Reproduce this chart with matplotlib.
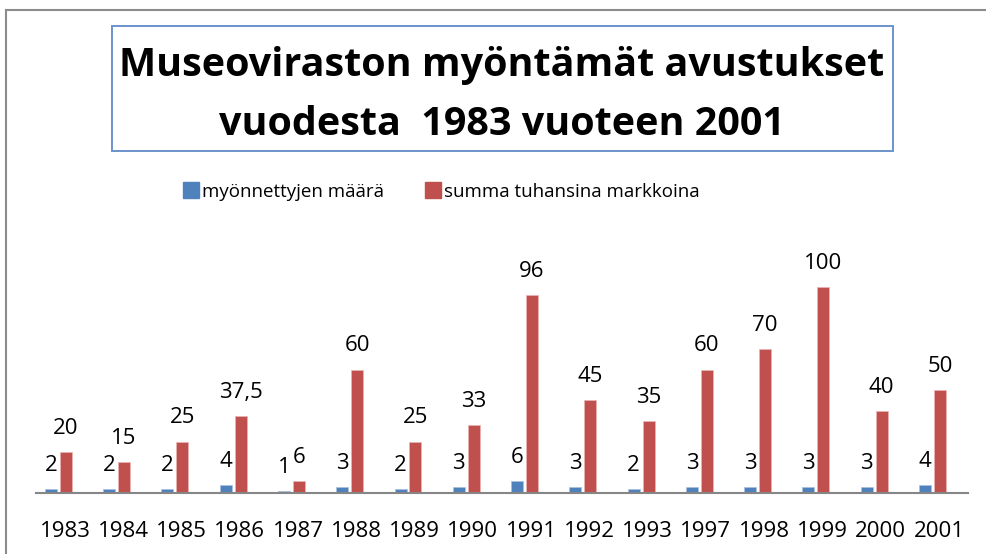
import matplotlib
matplotlib.use("Agg")
import matplotlib.pyplot as plt
from matplotlib.patches import Rectangle, Patch
from matplotlib.lines import Line2D
import numpy as np

years = ["1983", "1984", "1985", "1986", "1987", "1988", "1989", "1990",
         "1991", "1992", "1993", "1997", "1998", "1999", "2000", "2001"]
counts = [2, 2, 2, 4, 1, 3, 2, 3, 6, 3, 2, 3, 3, 3, 3, 4]
sums = [20, 15, 25, 37.5, 6, 60, 25, 33, 96, 45, 35, 60, 70, 100, 40, 50]
sum_labels = ["20", "15", "25", "37,5", "6", "60", "25", "33", "96", "45",
              "35", "60", "70", "100", "40", "50"]
series_names = ["myönnettyjen määrä", "summa tuhansina markkoina"]
title_lines = ["Museoviraston myöntämät avustukset", "vuodesta  1983 vuoteen 2001"]

FONT = ["Open Sans", "DejaVu Sans"]
plt.rcParams["font.family"] = FONT

W, H = 986, 554
fig = plt.figure(figsize=(W / 100, H / 100), dpi=100)
fig.patch.set_facecolor("white")

def fx(px):
    return px / W

def fy(py):
    return 1 - py / H

# outer chart frame (cropped on right/bottom): only top and left edges visible
frame_kw = dict(transform=fig.transFigure, color="#8c8c8c", linewidth=1.5)
fig.lines.append(Line2D([fx(6), fx(1200)], [fy(10), fy(10)], **frame_kw))
fig.lines.append(Line2D([fx(6), fx(6)], [fy(10), fy(700)], **frame_kw))

# title box
fig.patches.append(Rectangle((fx(112), fy(151)), fx(893) - fx(112), fy(26) - fy(151),
                             transform=fig.transFigure, fill=False,
                             edgecolor="#6b93cc", linewidth=1.4))

ax = fig.add_axes([fx(36), fy(493), fx(968) - fx(36), fy(246) - fy(493)])
x = np.arange(len(years))
bw = 0.205
off = 0.128
blue = "#4f81bd"
red = "#c0504d"
ax.bar(x - off, counts, width=bw, color=blue, edgecolor="#a9c0e0", linewidth=0.5)
ax.bar(x + off, sums, width=bw, color=red, edgecolor="#e8b4b2", linewidth=0.5)
ax.set_xlim(-0.384, 15.61)
ax.set_ylim(0, 120)
for s in ["top", "right", "left"]:
    ax.spines[s].set_visible(False)
ax.spines["bottom"].set_color("#868686")
ax.spines["bottom"].set_linewidth(1.5)
ax.set_yticks([])
ax.set_xticks([])

for xi, c in zip(x, counts):
    ax.annotate(str(c), (xi - off, c), xytext=(0, 13), textcoords="offset points",
                ha="center", va="baseline", fontsize=16, color="black")
for xi, s, lab in zip(x, sums, sum_labels):
    ax.annotate(lab, (xi + off, s), xytext=(0, 13), textcoords="offset points",
                ha="center", va="baseline", fontsize=16, color="black")
for xi, yr in zip(x, years):
    ax.annotate(yr, (xi + 0.112, 0), xycoords=("data", "axes fraction"),
                xytext=(0, -31.7), textcoords="offset points",
                ha="center", va="baseline", fontsize=16, color="black")

# title lines, size fitted so the first line spans the reference width
fig.canvas.draw()
r = fig.canvas.get_renderer()
probe = fig.text(0, 0, title_lines[0], fontsize=30, fontweight="bold", alpha=0)
tsize = 30 * 765 / probe.get_window_extent(r).width
probe.remove()
for line, base in zip(title_lines, [76, 135]):
    fig.text(fx(501.5), fy(base), line, ha="center", va="baseline",
             fontsize=tsize, fontweight="bold", color="black")

handles = [Patch(facecolor=blue, edgecolor=blue), Patch(facecolor=red, edgecolor=red)]
fig.legend(handles, series_names, loc="center",
           bbox_to_anchor=(fx(441), fy(191.5)), ncol=2, frameon=False,
           fontsize=13.5, handlelength=0.85, handleheight=0.9,
           handletextpad=0.15, columnspacing=2.2)

fig.savefig("out.png", dpi=100)
